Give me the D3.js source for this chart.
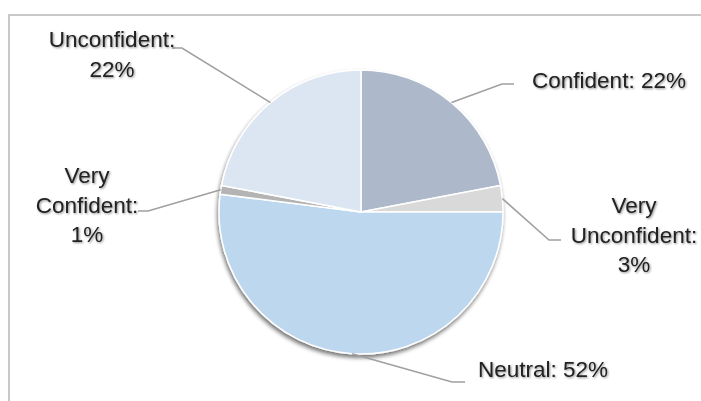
<!DOCTYPE html>
<html>
<head>
<meta charset="utf-8">
<script src="https://cdn.jsdelivr.net/npm/d3@7"></script>
<style>
  html, body { margin: 0; padding: 0; background: #fff; }
  svg { display: block; }
  text { font-family: "Liberation Sans", Arial, sans-serif; }
</style>
</head>
<body>
<svg id="chart" width="701" height="401"></svg>
<script>
// ---- data ----
const categories = ["Confident", "Very Unconfident", "Neutral", "Very Confident", "Unconfident"];
const values = [22, 3, 52, 1, 22];
const percentLabels = ["22%", "3%", "52%", "1%", "22%"];
const colors = ["#adb9ca", "#d9d9d9", "#bdd7ee", "#b4b4b4", "#dce6f2"];

// ---- layout (label placement, not data) ----
const labelLayout = [
  { lines: ["Confident: 22%"], x: 609, y: 80, elbow: [502, 84], end: [514, 84] },
  { lines: ["Very", "Unconfident:", "3%"], x: 634, y: 205, elbow: [549, 240], end: [561, 240] },
  { lines: ["Neutral: 52%"], x: 543, y: 369, elbow: [452, 382], end: [465, 382] },
  { lines: ["Very", "Confident:", "1%"], x: 87, y: 175, elbow: [148, 211], end: [138, 211] },
  { lines: ["Unconfident:", "22%"], x: 112, y: 39, elbow: [182, 48], end: [172, 48] }
];

const svg = d3.select("#chart");
const cx = 361, cy = 212, r = 142;

// frame
svg.append("rect")
  .attr("x", 9).attr("y", 15)
  .attr("width", 720).attr("height", 420)
  .attr("fill", "none")
  .attr("stroke", "#c9c9c9")
  .attr("stroke-width", 2);

const defs = svg.append("defs");
const f = defs.append("filter").attr("id", "pieShadow")
  .attr("x", "-20%").attr("y", "-20%").attr("width", "140%").attr("height", "140%");
f.append("feGaussianBlur").attr("in", "SourceAlpha").attr("stdDeviation", 2).attr("result", "b");
f.append("feOffset").attr("in", "b").attr("dx", -1).attr("dy", 3).attr("result", "o");
f.append("feComponentTransfer").attr("in", "o").attr("result", "s")
  .append("feFuncA").attr("type", "linear").attr("slope", 0.55);
const m = f.append("feMerge");
m.append("feMergeNode").attr("in", "s");
m.append("feMergeNode").attr("in", "SourceGraphic");

const tf = defs.append("filter").attr("id", "textShadow")
  .attr("x", "-10%").attr("y", "-30%").attr("width", "120%").attr("height", "160%");
tf.append("feGaussianBlur").attr("in", "SourceAlpha").attr("stdDeviation", 0.9).attr("result", "b");
tf.append("feOffset").attr("in", "b").attr("dx", 0.7).attr("dy", 1.2).attr("result", "o");
tf.append("feComponentTransfer").attr("in", "o").attr("result", "s")
  .append("feFuncA").attr("type", "linear").attr("slope", 0.45);
const tm = tf.append("feMerge");
tm.append("feMergeNode").attr("in", "s");
tm.append("feMergeNode").attr("in", "SourceGraphic");

const pie = d3.pie().sort(null).value(d => d)(values);
const arc = d3.arc().innerRadius(0).outerRadius(r);

const g = svg.append("g").attr("transform", `translate(${cx},${cy})`);
g.append("g").attr("filter", "url(#pieShadow)")
  .selectAll("path")
  .data(pie)
  .join("path")
  .attr("d", arc)
  .attr("fill", (d, i) => colors[i])
  .attr("stroke", "#ffffff")
  .attr("stroke-width", 1.5)
  .attr("stroke-linejoin", "round");

// leader lines
pie.forEach((d, i) => {
  const a = (d.startAngle + d.endAngle) / 2;
  const px = cx + r * Math.sin(a);
  const py = cy - r * Math.cos(a);
  const L = labelLayout[i];
  svg.append("polyline")
    .attr("points", `${px},${py} ${L.elbow[0]},${L.elbow[1]} ${L.end[0]},${L.end[1]}`)
    .attr("fill", "none")
    .attr("stroke", "#a0a0a0")
    .attr("stroke-width", 1.6);
});

// labels
labelLayout.forEach((L, i) => {
  const t = svg.append("text")
    .attr("x", L.x).attr("y", L.y)
    .attr("text-anchor", "middle")
    .attr("dominant-baseline", "central")
    .attr("font-size", 22.5)
    .attr("fill", "#202020")
    .attr("filter", "url(#textShadow)");
  L.lines.forEach((ln, j) => {
    t.append("tspan")
      .attr("x", L.x)
      .attr("dy", j === 0 ? 0 : 29.5)
      .text(ln);
  });
});
</script>
</body>
</html>
